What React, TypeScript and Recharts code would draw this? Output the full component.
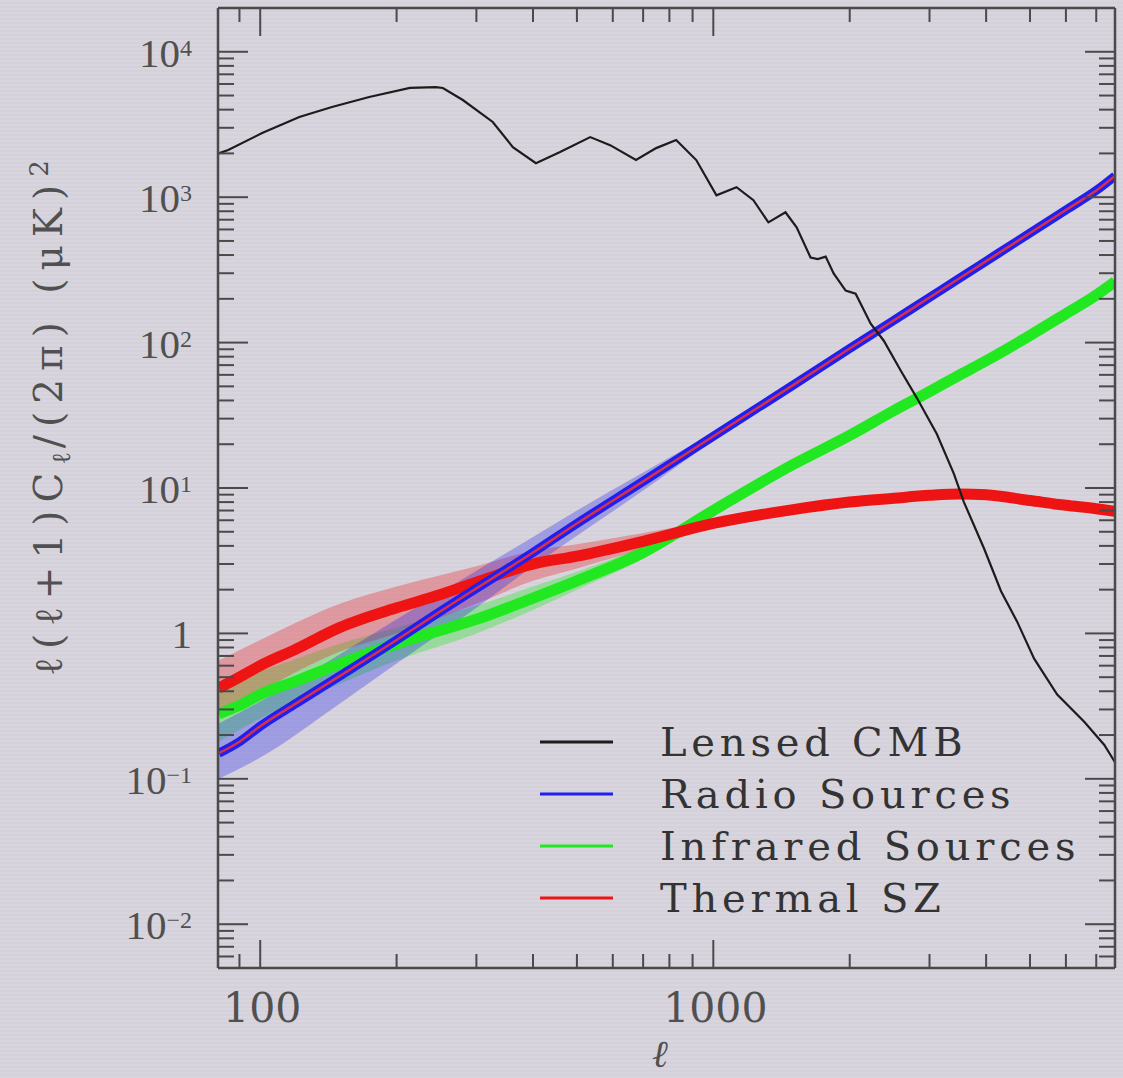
import React from 'react'
import { ComposedChart, Line, Area, XAxis, YAxis } from 'recharts'

// lensed CMB spectrum
const ellCmb = [
  81, 85, 101, 122, 144, 174, 214, 244, 253, 280, 326, 361, 406, 459, 535, 592, 675, 748, 828, 917,
  1016, 1125, 1226, 1323, 1443, 1527, 1639, 1700, 1770, 1843, 1959, 2061, 2225, 2378, 2593, 2812,
  3114, 3396, 3573, 3956, 4315, 4680, 5105, 5740, 6585, 7293, 7700,
]
const cmbPower = [
  2000, 2110, 2760, 3560, 4170, 4890, 5640, 5720, 5640, 4660, 3290, 2210, 1714, 2042, 2590, 2280, 1800,
  2175, 2470, 1800, 1031, 1171, 953, 671, 787, 620, 385, 375, 390, 299, 228, 217, 135, 103, 64, 41.7,
  23.5, 12.5, 8.0, 3.85, 1.95, 1.21, 0.67, 0.38, 0.247, 0.171, 0.13,
]

// foregrounds
const ellFg = [81, 90, 100, 120, 150, 200, 250, 300, 400, 500, 700, 1000, 1500, 2000, 2500, 3000, 3500, 4000, 5000, 6000, 7000, 7700]
const radioPower = [0.15, 0.18, 0.23, 0.33, 0.51, 0.9, 1.42, 2.04, 3.6, 5.7, 11.1, 22.7, 51, 91, 142, 204, 278, 363, 567, 817, 1112, 1400]
const infraredPower = [0.28, 0.32, 0.38, 0.47, 0.62, 0.85, 1.05, 1.25, 1.75, 2.3, 3.6, 7.0, 14.5, 23, 34, 46, 60, 75, 112, 158, 212, 262]
const szPower = [0.42, 0.5, 0.6, 0.78, 1.1, 1.5, 1.85, 2.25, 3.0, 3.4, 4.3, 5.7, 7.1, 8.0, 8.5, 8.9, 9.1, 9.0, 8.2, 7.6, 7.2, 6.9]

// scatter envelopes at low ell
const ellBand = [81, 100, 150, 200, 300, 400, 500, 700, 1000]
const radioLo = [0.1, 0.14, 0.33, 0.62, 1.5, 2.9, 4.7, 9.6, 21.5]
const radioHi = [0.24, 0.34, 0.72, 1.25, 2.7, 4.6, 7.0, 12.8, 24]
const irLo = [0.18, 0.26, 0.45, 0.65, 1.0, 1.45, 2.0, 3.25, 6.6]
const irHi = [0.45, 0.55, 0.85, 1.1, 1.55, 2.1, 2.65, 4.0, 7.4]
const szLo = [0.28, 0.4, 0.75, 1.0, 1.6, 2.3, 2.8, 3.8, 5.4]
const szHi = [0.65, 0.9, 1.6, 2.1, 2.9, 3.7, 4.1, 4.9, 6.0]

// axes
const xMajor = [100, 1000]
const xMajorLabels = ['100', '1000']
const xMinor = [90, 200, 300, 400, 500, 600, 700, 800, 900, 2000, 3000, 4000, 5000, 6000, 7000]
const yMajor = [0.01, 0.1, 1, 10, 100, 1000, 10000]
const yMajorLabels = [['10', '\u22122'], ['10', '\u22121'], ['1', ''], ['10', '1'], ['10', '2'], ['10', '3'], ['10', '4']]
const yMinorSteps = [2, 3, 4, 5, 6, 7, 8, 9]

const seriesNames = ['Lensed CMB', 'Radio Sources', 'Infrared Sources', 'Thermal SZ']
const seriesColors = ['#1c1c1c', '#1f1ff0', '#22e822', '#ee1414']

const cmbData = ellCmb.map((l, i) => ({ l, v: cmbPower[i] }))
const fgData = ellFg.map((l, i) => ({ l, radio: radioPower[i], ir: infraredPower[i], sz: szPower[i] }))
const bandData = ellBand.map((l, i) => ({
  l,
  radio: [radioLo[i], radioHi[i]],
  ir: [irLo[i], irHi[i]],
  sz: [szLo[i], szHi[i]],
}))

const xTicks = [...xMajor, ...xMinor].sort((a, b) => a - b)
const yTicks = [0.006, 0.007, 0.008, 0.009]
yMajor.forEach((m) => {
  yTicks.push(m)
  if (m < 10000) yMinorSteps.forEach((s) => yTicks.push(+(m * s).toPrecision(3)))
})

const xDomain = [80.7, 7700]
const yDomain = [0.005, 20000]

const axisColor = '#4a4a4a'
const labelColor = '#505050'
const tickFont = '"Liberation Serif", "Times New Roman", serif'
const textFont = '"DejaVu Serif", serif'

const isMajor = (list: number[], v: number) => list.findIndex((m) => Math.abs(m - v) / m < 1e-6)

function BottomTick({ x, y, payload }: any) {
  const i = isMajor(xMajor, payload.value)
  return (
    <g>
      <line x1={x} x2={x} y1={y} y2={y - (i >= 0 ? 28 : 14)} stroke={axisColor} strokeWidth={2} />
      {i >= 0 && (
        <text x={x + 2} y={y + 54} textAnchor="middle" fontFamily={textFont} fontSize={41} fill={labelColor}>
          {xMajorLabels[i]}
        </text>
      )}
    </g>
  )
}

function TopTick({ x, y, payload }: any) {
  const i = isMajor(xMajor, payload.value)
  return <line x1={x} x2={x} y1={y} y2={y + (i >= 0 ? 28 : 14)} stroke={axisColor} strokeWidth={2} />
}

function LeftTick({ x, y, payload }: any) {
  const i = isMajor(yMajor, payload.value)
  return (
    <g>
      <line x1={x} x2={x + (i >= 0 ? 30 : 16)} y1={y} y2={y} stroke={axisColor} strokeWidth={2} />
      {i >= 0 && (
        <text x={x - 26} y={y + 15} textAnchor="end" fontFamily={tickFont} fontSize={41} fill={labelColor}>
          {yMajorLabels[i][0]}
          {yMajorLabels[i][1] && (
            <tspan fontSize={24} dy={-11}>
              {yMajorLabels[i][1]}
            </tspan>
          )}
        </text>
      )}
    </g>
  )
}

function RightTick({ x, y, payload }: any) {
  const i = isMajor(yMajor, payload.value)
  return <line x1={x} x2={x - (i >= 0 ? 30 : 16)} y1={y} y2={y} stroke={axisColor} strokeWidth={2} />
}

function YTitle() {
  return (
    <text
      x={0}
      y={0}
      transform="translate(62 414) rotate(-90)"
      textAnchor="middle"
      fontFamily={textFont}
      fontSize={39}
      letterSpacing={8}
      fill={labelColor}
    >
      {'\u2113(\u2113+1)C'}
      <tspan fontSize={26} dy={8} letterSpacing={4}>
        {'\u2113'}
      </tspan>
      <tspan dy={-8}>{'/(2\u03c0)  (\u03bcK)'}</tspan>
      <tspan fontSize={26} dy={-14}>
        2
      </tspan>
    </text>
  )
}

function XTitle() {
  return (
    <text x={660} y={1067} textAnchor="middle" fontFamily={textFont} fontStyle="italic" fontSize={38} fill={labelColor}>
      {'\u2113'}
    </text>
  )
}

function ChartLegend() {
  return (
    <div style={{ position: 'absolute', left: 540, top: 716 }}>
      {seriesNames.map((name, i) => (
        <div key={name} style={{ display: 'flex', alignItems: 'center', height: 52 }}>
          <svg width={73} height={52}>
            <line x1={0} x2={73} y1={26} y2={26} stroke={seriesColors[i]} strokeWidth={3} />
          </svg>
          <span
            style={{
              marginLeft: 47,
              fontFamily: textFont,
              fontSize: 40,
              letterSpacing: 4.8,
              lineHeight: '52px',
              color: '#333',
              whiteSpace: 'nowrap',
            }}
          >
            {name}
          </span>
        </div>
      ))}
    </div>
  )
}

export default function App() {
  return (
    <div
      style={{
        position: 'absolute',
        left: 0,
        top: 0,
        width: 1123,
        height: 1078,
        overflow: 'hidden',
        background: 'repeating-linear-gradient(180deg, #d9d5de 0px, #d9d5de 2px, #d1cdd7 3px, #d9d5de 4px)',
      }}
    >
      <ComposedChart width={1123} height={1078} margin={{ top: 0, right: 0, bottom: 0, left: 0 }}>
        <XAxis
          xAxisId="b"
          dataKey="l"
          type="number"
          scale="log"
          domain={xDomain}
          allowDataOverflow
          ticks={xTicks}
          interval={0}
          tickSize={0}
          tickMargin={0}
          tick={<BottomTick />}
          height={110}
          axisLine={{ stroke: axisColor, strokeWidth: 2.5 }}
        />
        <XAxis
          xAxisId="t"
          orientation="top"
          dataKey="l"
          type="number"
          scale="log"
          domain={xDomain}
          allowDataOverflow
          ticks={xTicks}
          interval={0}
          tickSize={0}
          tickMargin={0}
          tick={<TopTick />}
          height={8}
          axisLine={{ stroke: axisColor, strokeWidth: 2.5 }}
        />
        <YAxis
          yAxisId="l"
          type="number"
          scale="log"
          domain={yDomain}
          allowDataOverflow
          ticks={yTicks}
          interval={0}
          tickSize={0}
          tickMargin={0}
          tick={<LeftTick />}
          width={218}
          axisLine={{ stroke: axisColor, strokeWidth: 2.5 }}
          label={{ content: () => <YTitle /> }}
        />
        <YAxis
          yAxisId="r"
          orientation="right"
          type="number"
          scale="log"
          domain={yDomain}
          allowDataOverflow
          ticks={yTicks}
          interval={0}
          tickSize={0}
          tickMargin={0}
          tick={<RightTick />}
          width={8}
          axisLine={{ stroke: axisColor, strokeWidth: 2.5 }}
        />

        <Area xAxisId="b" yAxisId="l" data={bandData} dataKey="ir" type="monotone" stroke="none" fill={seriesColors[2]} fillOpacity={0.35} isAnimationActive={false} />
        <Area xAxisId="b" yAxisId="l" data={bandData} dataKey="sz" type="monotone" stroke="none" fill={seriesColors[3]} fillOpacity={0.3} isAnimationActive={false} />
        <Area xAxisId="b" yAxisId="l" data={bandData} dataKey="radio" type="monotone" stroke="none" fill={seriesColors[1]} fillOpacity={0.3} isAnimationActive={false} />

        <Line xAxisId="b" yAxisId="l" data={fgData} dataKey="ir" type="monotone" stroke={seriesColors[2]} strokeWidth={11} dot={false} isAnimationActive={false} />
        <Line xAxisId="b" yAxisId="l" data={fgData} dataKey="sz" type="monotone" stroke={seriesColors[3]} strokeWidth={11} dot={false} isAnimationActive={false} />
        <Line xAxisId="b" yAxisId="l" data={fgData} dataKey="radio" type="monotone" stroke={seriesColors[1]} strokeWidth={9} dot={false} isAnimationActive={false} />
        <Line xAxisId="b" yAxisId="l" data={fgData} dataKey="radio" type="monotone" stroke="#d8304a" strokeWidth={2.5} dot={false} isAnimationActive={false} />
        <Line xAxisId="b" yAxisId="l" data={cmbData} dataKey="v" type="linear" stroke={seriesColors[0]} strokeWidth={2.2} dot={false} isAnimationActive={false} />
        <XTitle />
      </ComposedChart>
      <ChartLegend />
    </div>
  )
}
